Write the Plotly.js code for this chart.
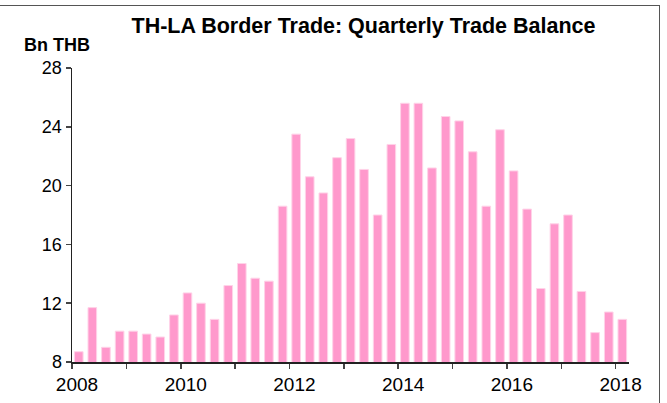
<!DOCTYPE html>
<html>
<head>
<meta charset="utf-8">
<script src="https://cdn.plot.ly/plotly-3.0.1.min.js"></script>
<style>
html,body{margin:0;padding:0;background:#fff;}
#wrap{position:relative;width:667px;height:403px;overflow:hidden;}
#chart{position:absolute;left:0;top:0;width:667px;height:403px;}
#frame{position:absolute;left:-2px;top:5px;width:661px;height:420px;border-top:1px solid #555;border-right:1px solid #555;pointer-events:none;}
</style>
</head>
<body>
<div id="wrap"><div id="chart"></div><div id="frame"></div></div>
<script>
// Quarter start dates (2008Q1 .. 2018Q1)
const quarters = [
 '2008-01-01','2008-04-01','2008-07-01','2008-10-01',
 '2009-01-01','2009-04-01','2009-07-01','2009-10-01',
 '2010-01-01','2010-04-01','2010-07-01','2010-10-01',
 '2011-01-01','2011-04-01','2011-07-01','2011-10-01',
 '2012-01-01','2012-04-01','2012-07-01','2012-10-01',
 '2013-01-01','2013-04-01','2013-07-01','2013-10-01',
 '2014-01-01','2014-04-01','2014-07-01','2014-10-01',
 '2015-01-01','2015-04-01','2015-07-01','2015-10-01',
 '2016-01-01','2016-04-01','2016-07-01','2016-10-01',
 '2017-01-01','2017-04-01','2017-07-01','2017-10-01',
 '2018-01-01'
];
// Trade balance, Bn THB
const balance = [
 8.7, 11.7, 9.0, 10.1,
 10.1, 9.9, 9.7, 11.2,
 12.7, 12.0, 10.9, 13.2,
 14.7, 13.7, 13.5, 18.6,
 23.5, 20.6, 19.5, 21.9,
 23.2, 21.1, 18.0, 22.8,
 25.6, 25.6, 21.2, 24.7,
 24.4, 22.3, 18.6, 23.8,
 21.0, 18.4, 13.0, 17.4,
 18.0, 12.8, 10.0, 11.4,
 10.9
];
const xTickVals = ['2008-01-01','2009-01-01','2010-01-01','2011-01-01','2012-01-01','2013-01-01','2014-01-01','2015-01-01','2016-01-01','2017-01-01','2018-01-01'];
const xTickText = ['2008','','2010','','2012','','2014','','2016','','2018'];
const yTickVals = [8,12,16,20,24,28];

const font = 'Liberation Sans, Arial, sans-serif';

const trace = {
  type: 'bar',
  x: quarters,
  y: balance,
  xperiod: 'M3',
  xperiodalignment: 'middle',
  marker: {color: '#ff99cc', line: {color: '#ffd3e8', width: 1}},
  hoverinfo: 'x+y'
};

const layout = {
  width: 667, height: 403,
  margin: {l: 72, r: 38, t: 68, b: 41},
  paper_bgcolor: '#fff', plot_bgcolor: '#fff',
  showlegend: false,
  bargap: 0.36,
  font: {family: font, color: '#000'},
  title: {
    text: '<b>TH-LA Border Trade: Quarterly Trade Balance</b>',
    font: {family: font, size: 21.5, color: '#000'},
    xref: 'container', x: 0.545, xanchor: 'center',
    yref: 'container', y: 0.936, yanchor: 'middle'
  },
  xaxis: {
    type: 'date',
    range: ['2008-01-01', '2018-04-01'],
    tickmode: 'array', tickvals: xTickVals, ticktext: xTickText,
    ticks: 'outside', ticklen: 5, tickcolor: '#444', tickwidth: 1.5,
    showline: true, linecolor: '#222', linewidth: 1.5,
    showgrid: false, zeroline: false,
    tickfont: {family: font, size: 19, color: '#000'},
    ticklabelshift: 5
  },
  yaxis: {
    range: [8, 28],
    tickmode: 'array', tickvals: yTickVals,
    ticks: 'outside', ticklen: 5, tickcolor: '#444', tickwidth: 1.5,
    showline: true, linecolor: '#222', linewidth: 1.5,
    showgrid: false, zeroline: false,
    tickfont: {family: font, size: 18, color: '#000'}
  },
  annotations: [{
    text: '<b>Bn THB</b>',
    xref: 'paper', yref: 'paper',
    x: -0.09, xanchor: 'left',
    y: 1.078, yanchor: 'middle',
    showarrow: false,
    font: {family: font, size: 18, color: '#000'}
  }]
};

Plotly.newPlot('chart', [trace], layout, {displayModeBar: false, staticPlot: true});
</script>
</body>
</html>
